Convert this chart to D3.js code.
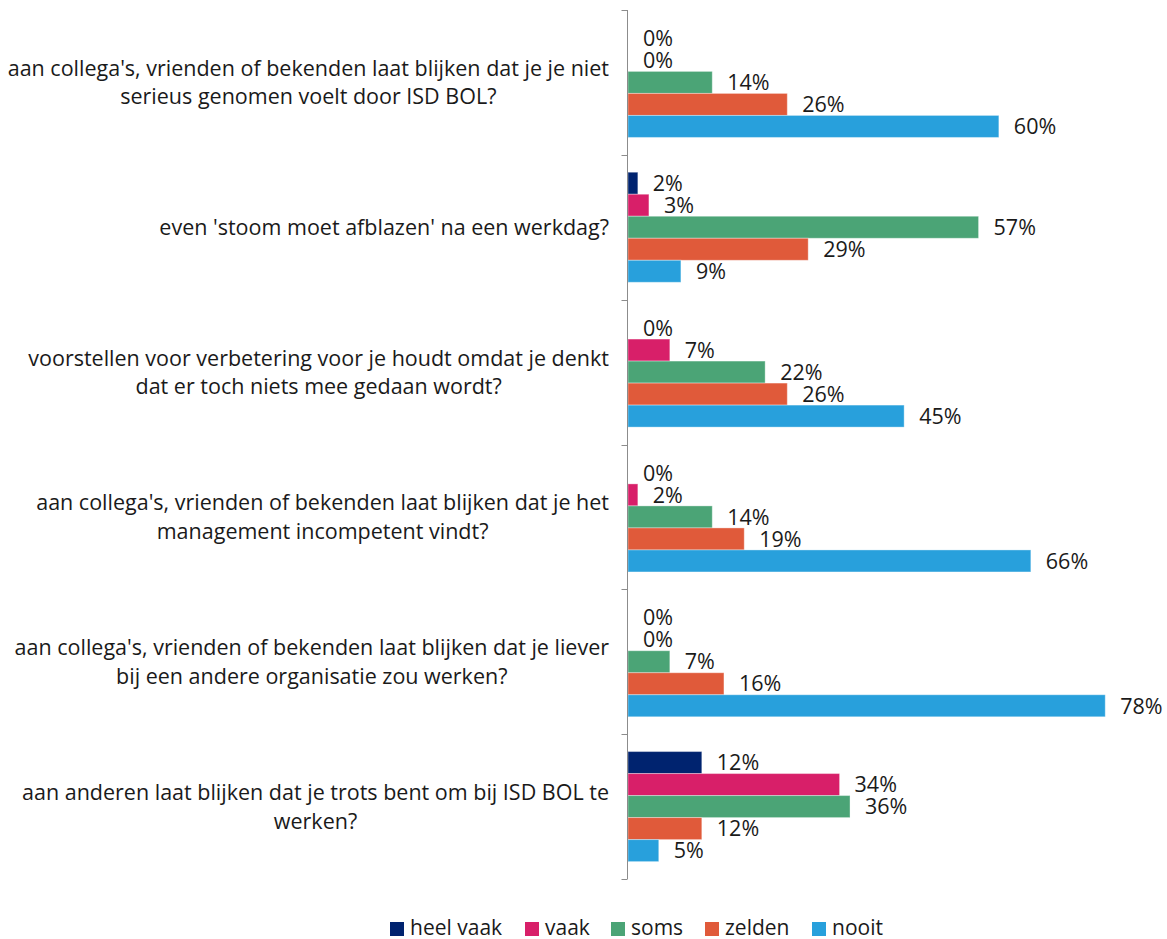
<!DOCTYPE html>
<html>
<head>
<meta charset="utf-8">
<script src="https://cdn.jsdelivr.net/npm/d3@7"></script>
<style>
  body { margin: 0; background: #fff; }
  svg text { font-family: "Open Sans", sans-serif; fill: #1a1a1a; }
</style>
</head>
<body>
<div id="chart"></div>
<script>
const categories = [
  ["aan collega's, vrienden of bekenden laat blijken dat je je niet", "serieus genomen voelt door ISD BOL?"],
  ["even 'stoom moet afblazen' na een werkdag?"],
  ["voorstellen voor verbetering voor je houdt omdat je denkt", "dat er toch niets mee gedaan wordt?"],
  ["aan collega's, vrienden of bekenden laat blijken dat je het", "management incompetent vindt?"],
  ["aan collega's, vrienden of bekenden laat blijken dat je liever", "bij een andere organisatie zou werken?"],
  ["aan anderen laat blijken dat je trots bent om bij ISD BOL te", "werken?"]
];
const seriesNames = ["heel vaak", "vaak", "soms", "zelden", "nooit"];
const seriesColors = ["#00236f", "#d81f69", "#4ba476", "#e05a3a", "#28a0dc"];

// percentages per category, in series order
const heelVaak = [0, 1.6, 0, 0, 0, 12.0];
const vaak     = [0, 3.4, 6.8, 1.6, 0, 34.4];
const soms     = [13.7, 57.0, 22.3, 13.7, 6.8, 36.1];
const zelden   = [25.9, 29.3, 25.9, 18.9, 15.6, 12.0];
const nooit    = [60.3, 8.6, 44.9, 65.5, 77.6, 5.0];
const seriesValues = [heelVaak, vaak, soms, zelden, nooit];

const width = 1167, height = 939;
const axisX = 627.5;
const plotTop = 10, plotBottom = 879;
const fontSize = 21.5;

const svg = d3.select("#chart").append("svg").attr("width", width).attr("height", height);

const y = d3.scaleBand().domain(d3.range(categories.length)).range([plotTop, plotBottom]).paddingInner(0).paddingOuter(0);
const ySeries = d3.scaleBand().domain(d3.range(seriesNames.length)).range([0, y.bandwidth()]).paddingInner(0).paddingOuter(0.79);
const x = d3.scaleLinear().domain([0, 100]).range([axisX + 0.5, axisX + 0.5 + 615]);

// bars
const groups = svg.selectAll("g.cat")
  .data(categories)
  .join("g")
  .attr("class", "cat")
  .attr("transform", (d, i) => `translate(0,${y(i)})`);

groups.each(function (cat, ci) {
  const g = d3.select(this);
  seriesNames.forEach((s, si) => {
    const v = seriesValues[si][ci];
    const by = ySeries(si);
    if (v > 0) {
      g.append("rect")
        .attr("x", x(0))
        .attr("y", by)
        .attr("width", x(v) - x(0))
        .attr("height", ySeries.bandwidth())
        .attr("fill", seriesColors[si])
        .attr("stroke", "rgba(255,255,255,0.35)")
        .attr("stroke-width", 1);
    }
    g.append("text")
      .attr("x", x(v) + 15)
      .attr("y", by + ySeries.bandwidth() / 2)
      .attr("dy", "0.36em")
      .attr("font-size", fontSize)
      .text(Math.round(v) + "%");
  });

  // category label: block right-aligned, lines centered within block
  const lineH = 28.5;
  const txt = g.append("text").attr("font-size", fontSize).attr("text-anchor", "middle");
  cat.forEach((line, li) => {
    txt.append("tspan")
      .attr("y", y.bandwidth() / 2 + (li - (cat.length - 1) / 2) * lineH)
      .attr("dy", "0.36em")
      .text(line);
  });
  const spans = txt.selectAll("tspan").nodes();
  const maxW = d3.max(spans, n => n.getComputedTextLength());
  txt.selectAll("tspan").attr("x", 609 - maxW / 2);
});

// axis
const axis = svg.append("g").attr("transform", `translate(${axisX},0)`);
axis.append("line").attr("x1", 0).attr("x2", 0).attr("y1", plotTop).attr("y2", plotBottom)
  .attr("stroke", "#8c8c8c").attr("stroke-width", 1);
axis.selectAll("line.tick")
  .data(d3.range(categories.length + 1))
  .join("line")
  .attr("class", "tick")
  .attr("x1", -6).attr("x2", 0)
  .attr("y1", i => Math.round(plotTop + i * y.bandwidth()) + 0.5)
  .attr("y2", i => Math.round(plotTop + i * y.bandwidth()) + 0.5)
  .attr("stroke", "#8c8c8c").attr("stroke-width", 1);

// legend
const legendX = [390, 525, 611, 705, 812];
const legend = svg.selectAll("g.legend")
  .data(seriesNames)
  .join("g")
  .attr("class", "legend")
  .attr("transform", (d, i) => `translate(${legendX[i]},922)`);
legend.append("rect").attr("width", 14).attr("height", 14).attr("fill", (d, i) => seriesColors[i]);
legend.append("text").attr("x", 20).attr("y", 13).attr("font-size", 21).text(d => d);
</script>
</body>
</html>
